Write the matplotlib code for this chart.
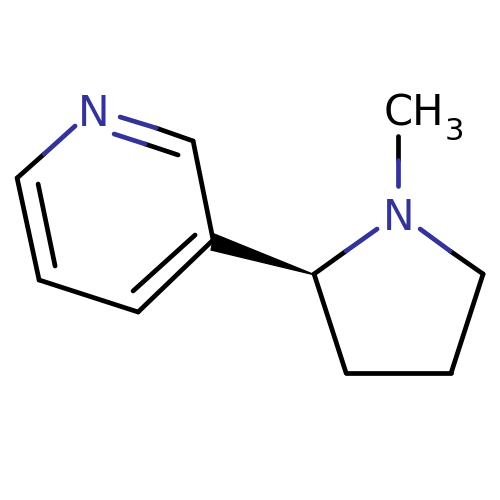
import matplotlib
matplotlib.use("Agg")
import matplotlib.pyplot as plt
import matplotlib.patches as patches

BLACK = '#000000'
BLUE = '#33339a'

# bonds as pixel positions, x then y
black_x = [[44, 17], [17, 39], [38, 55], [39, 138], [138, 213], [133, 195], [213, 193], [193, 156], [178, 145],
           [314, 346], [314, 346], [346, 451], [451, 483], [483, 450], [398, 398]]
black_y = [[154, 178], [178, 280], [184, 266], [280, 312], [312, 240], [291, 235], [240, 141], [141, 128], [155, 144],
           [274, 251], [274, 373], [373, 373], [373, 274], [274, 251], [136, 160]]
blue_x = [[75, 44], [156, 120], [145, 114], [346, 377], [450, 420], [398, 398]]
blue_y = [[126, 154], [128, 117], [144, 134], [251, 229], [251, 229], [160, 186]]
wedge_pts = [(315, 275), (214, 234), (211, 250)]

fig = plt.figure(figsize=(5, 5), dpi=100)
ax = fig.add_axes([0, 0, 1, 1])

for x, y in zip(black_x, black_y):
    ax.plot(x, y, color=BLACK, lw=3.4, solid_capstyle='round')
for x, y in zip(blue_x, blue_y):
    ax.plot(x, y, color=BLUE, lw=3.4, solid_capstyle='round')

ax.add_patch(patches.Polygon(wedge_pts, closed=True, facecolor=BLACK, edgecolor=BLACK, lw=1))

ax.text(94, 126, 'N', color=BLUE, fontsize=30.5, ha='center', va='baseline')
ax.text(398.5, 230, 'N', color=BLUE, fontsize=30.5, ha='center', va='baseline')
ax.text(383.5, 126, 'CH', color=BLACK, fontsize=30, ha='left', va='baseline')
ax.text(445, 140, '3', color=BLACK, fontsize=22, ha='left', va='baseline')

ax.set_xlim(-0.1, 499.9)
ax.set_ylim(500, 0)
ax.axis('off')
fig.savefig('out.png', dpi=100, facecolor='white')
